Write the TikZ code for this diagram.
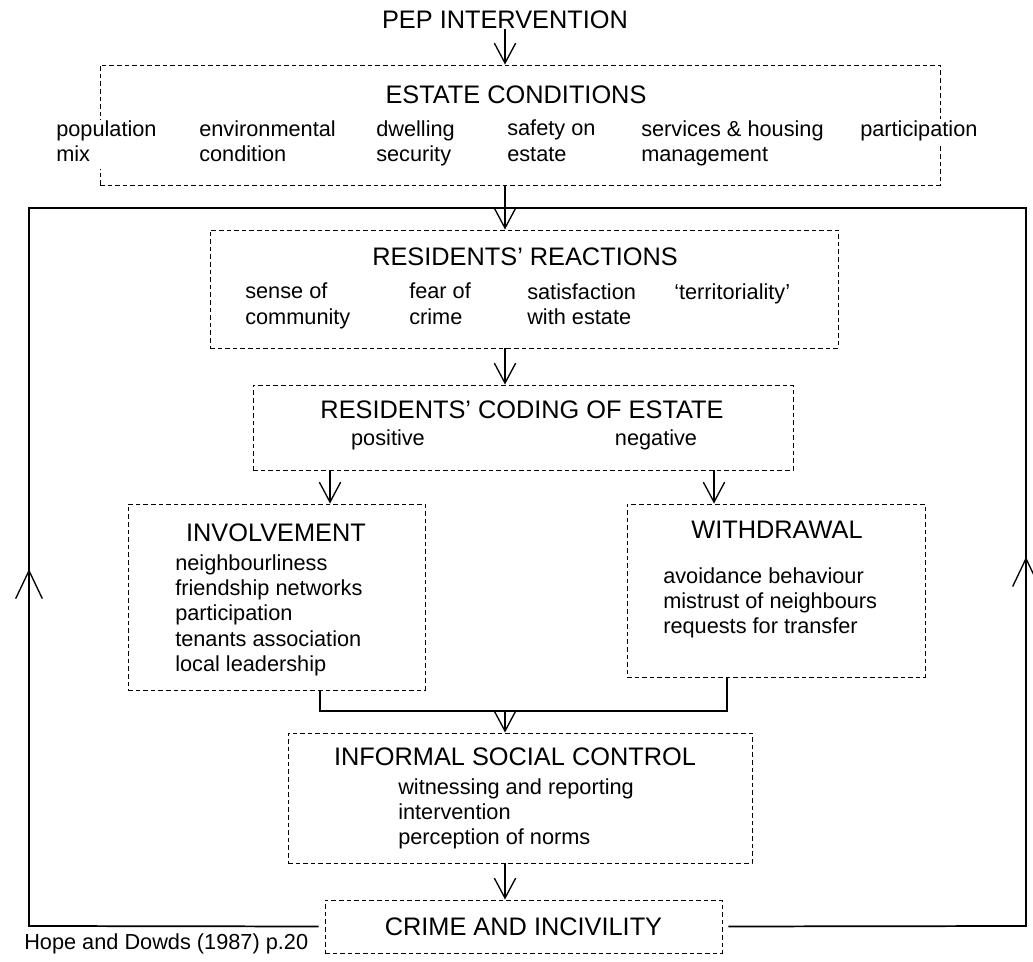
\documentclass[tikz,border=0pt]{standalone}
\usepackage{fontspec}
\setmainfont{Liberation Sans}
\usetikzlibrary{arrows.meta, fit, decorations.markings}

\begin{document}
\begin{tikzpicture}[
    x=0.75pt, y=-0.75pt,
    >={Straight Barb[length=15pt, width=16pt]},
    dbox/.style={draw, dash pattern=on 3.5pt off 2.2pt, line width=0.7pt, inner sep=0pt},
    title/.style={font=\fontsize{19}{22}\selectfont, inner sep=0pt},
    item/.style={font=\fontsize{16.3}{19}\selectfont, align=left, anchor=north west, inner sep=0pt, fill=white,
        execute at begin node=\strut},
    flow/.style={->, line width=1pt},
    joinline/.style={line width=1.3pt},
    feedback/.style={line width=1.3pt, postaction={decorate},
        decoration={markings, mark=at position #1 with {\arrow[line width=1pt]{Straight Barb[length=21pt, width=20pt]}}}}
]
\useasboundingbox (0,0) rectangle (1033,962);

% 1. Boxes
\node[dbox, fit={(100,65) (940,185)}] (estate) {};
\node[dbox, fit={(210,230) (838,348)}] (reac) {};
\node[dbox, fit={(253,385) (793,470)}] (coding) {};
\node[dbox, fit={(128,504) (425,690)}] (invol) {};
\node[dbox, fit={(627,504) (925,677)}] (withd) {};
\node[dbox, fit={(288,733) (752,863)}] (isc) {};
\node[dbox, fit={(325,900) (722,953)}] (crime) {};

% 2. Titles
\node[title] (pep) at (505,20) {PEP INTERVENTION};
\node[title] (estate_t) at (516,95) {ESTATE CONDITIONS};
\node[title] (reac_t) at (525,257) {RESIDENTS' REACTIONS};
\node[title] (coding_t) at (522,410) {RESIDENTS' CODING OF ESTATE};
\node[title] (invol_t) at (276,533) {INVOLVEMENT};
\node[title] (withd_t) at (777,530) {WITHDRAWAL};
\node[title] (isc_t) at (515,757) {INFORMAL SOCIAL CONTROL};
\node[title] (crime_t) at (crime.center) {CRIME AND INCIVILITY};

% 3. Items
\node[item] (popmix) at (56,120) {population\\mix};
\node[item] (envcond) at (199,120) {environmental\\condition};
\node[item] (dwelling) at (376,120) {dwelling\\security};
\node[item] (safety) at (507,120) {safety on\\estate};
\node[item] (services) at (641,120) {services \& housing\\management};
\node[item] (partic) at (860,119) {participation};

\node[item] (sense) at (245,283) {sense of\\community};
\node[item] (fear) at (409,283) {fear of\\crime};
\node[item] (satis) at (527,283) {satisfaction\\with estate};
\node[item] (territ) at (674,282) {`territoriality'};

\node[item, anchor=center] (posit) at (388,440) {positive};
\node[item, anchor=center] (negat) at (656,440) {negative};

\node[item] (invol_l) at (175,554) {neighbourliness\\friendship networks\\participation\\tenants association\\local leadership};
\node[item] (withd_l) at (663,567) {avoidance behaviour\\mistrust of neighbours\\requests for transfer};
\node[item] (isc_l) at (398,778) {witnessing and reporting\\intervention\\perception of norms};

\node[item, anchor=west] (source) at (24,944) {Hope and Dowds (1987) p.20};

% 4. Connectors
\coordinate (posx) at (330,0);
\coordinate (negx) at (714,0);
\coordinate (joinL) at (320,711);
\coordinate (joinR) at (727,711);
\coordinate (fbBL) at (29,926);
\coordinate (fbTL) at (29,208);
\coordinate (fbTR) at (1026,208);
\coordinate (fbBR) at (1026,926);
\coordinate (fbTM) at (505,208);

\draw[flow] (pep.south) -- (pep.south |- estate.north);
\draw[flow] (pep.south |- estate.south) -- (pep.south |- reac.north);
\draw[flow] (pep.south |- reac.south) -- (pep.south |- coding.north);
\draw[flow] (posx |- coding.south) -- (posx |- invol.north);
\draw[flow] (negx |- coding.south) -- (negx |- withd.north);
\draw[joinline] (invol.south -| joinL) -- (joinL) -- (joinR) -- (withd.south -| joinR);
\draw[flow] (pep.south |- joinL) -- (pep.south |- isc.north);
\draw[flow] (pep.south |- isc.south) -- (pep.south |- crime.north);

\draw[feedback=0.438, shorten <=4.5pt] (crime.west) -- (fbBL) -- (fbTL) -- (fbTM);
\draw[feedback=0.436, shorten <=4.5pt] (crime.east) -- (fbBR) -- (fbTR) -- (fbTM);

\end{tikzpicture}
\end{document}
